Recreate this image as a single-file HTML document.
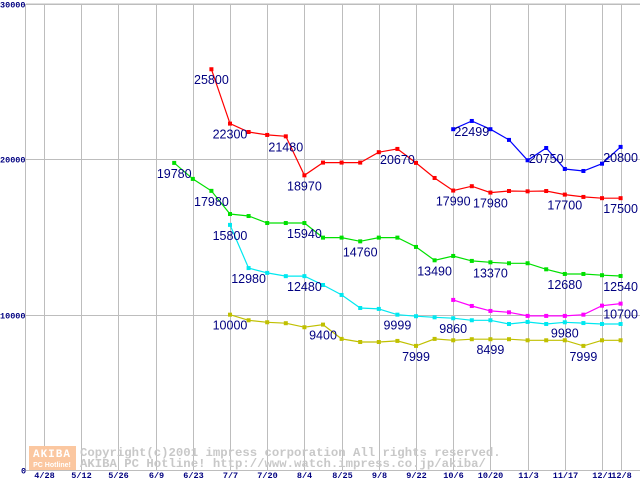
<!DOCTYPE html>
<html><head><meta charset="utf-8"><style>
html,body{margin:0;padding:0;background:#fff;}
svg{display:block;}
</style></head><body>
<svg id="chart" width="640" height="480" xmlns="http://www.w3.org/2000/svg">
<g id="grid"></g>
<g id="wm">
<rect x="29" y="446" width="47" height="24" fill="#fbc7a0"/>
<text x="52" y="457" text-anchor="middle" font-family="Liberation Mono, monospace" font-weight="bold" font-size="11" fill="#fff" letter-spacing="1">AKIBA</text>
<text x="52" y="467" text-anchor="middle" font-family="Liberation Sans, sans-serif" font-weight="bold" font-size="7" fill="#fff">PC Hotline!</text>
<text x="80" y="456" font-family="Liberation Mono, monospace" font-weight="bold" font-size="12.3" fill="#c8c8c8">Copyright(c)2001 impress corporation All rights reserved.</text>
<text x="80" y="467" font-family="Liberation Mono, monospace" font-weight="bold" font-size="12.3" fill="#c8c8c8">AKIBA PC Hotline!  http://www.watch.impress.co.jp/akiba/</text>
</g>
<g id="series"></g>
</svg>
<script>
const xLabels = ["4/28","5/12","5/26","6/9","6/23","7/7","7/20","8/4","8/25","9/8","9/22","10/6","10/20","11/3","11/17","12/1","12/8"];
const xLabelWeeks = [0,2,4,6,8,10,12,14,16,18,20,22,24,26,28,30,31];
const yTicks = [0,10000,20000,30000];
const redStart = 9;
const redValues = [25800,22300,21760,21570,21480,18970,19790,19790,19790,20460,20670,19770,18800,17990,18270,17860,17960,17940,17960,17730,17580,17500,17500];
const redLabels = [[0,"25800"],[1,"22300"],[4,"21480"],[5,"18970"],[10,"20670"],[13,"17990"],[15,"17980"],[19,"17700"],[22,"17500"]];
const blueStart = 22;
const blueValues = [21940,22470,21940,21250,19940,20730,19380,19250,19720,20800];
const blueLabels = [[1,"22499"],[5,"20750"],[9,"20800"]];
const greenStart = 7;
const greenValues = [19770,18740,17970,16480,16350,15900,15900,15900,14960,14960,14720,14960,14960,14360,13500,13780,13460,13370,13310,13310,12920,12620,12620,12540,12490];
const greenLabels = [[0,"19780"],[2,"17980"],[7,"15940"],[10,"14760"],[14,"13490"],[17,"13370"],[21,"12680"],[24,"12540"]];
const cyanStart = 10;
const cyanValues = [15780,13000,12690,12480,12480,11910,11270,10430,10370,10000,9900,9830,9770,9640,9640,9400,9530,9400,9510,9460,9400,9400];
const cyanLabels = [[0,"15800"],[1,"12980"],[4,"12480"],[9,"9999"],[12,"9860"],[18,"9980"]];
const magentaStart = 22;
const magentaValues = [10950,10560,10240,10150,9920,9920,9920,10000,10580,10710];
const magentaLabels = [[9,"10700"]];
const yellowStart = 10;
const yellowValues = [10000,9640,9510,9450,9190,9360,8440,8240,8240,8310,7990,8440,8350,8420,8420,8420,8350,8350,8350,7990,8350,8350];
const yellowLabels = [[0,"10000"],[5,"9400"],[10,"7999"],[14,"8499"],[19,"7999"]];

const NS="http://www.w3.org/2000/svg";
const X0=44, DX=18.6, Y0=470, Y1=4, YMAX=30000;
function xs(w){return X0+w*DX;}
function ys(v){return Y0-(v/YMAX)*(Y0-Y1);}
function mk(tag,attrs,parent){const e=document.createElementNS(NS,tag);for(const k in attrs)e.setAttribute(k,attrs[k]);parent.appendChild(e);return e;}
const grid=document.getElementById('grid');
// axes frame
let ln=mk('line',{x1:26,y1:4,x2:640,y2:4,stroke:"#bdbdbd"},grid);


ln=mk('line',{x1:25.5,y1:4,x2:25.5,y2:470,stroke:"#bdbdbd"},grid);


yTicks.forEach(v=>{
  const y=Math.round(ys(v))+0.5;
  const l=mk('line',{x1:26,y1:y,x2:640,y2:y,stroke:"#bdbdbd"},grid);
  
  
  const t=mk('text',{x:v===0?21:0,y:y+3,"font-family":"Liberation Mono, monospace","font-weight":"bold","font-size":"8.5",fill:"#000080"},grid);
  t.textContent=v;
  
  
});
xLabels.forEach((lab,i)=>{
  const x=Math.round(xs(xLabelWeeks[i]))+0.5;
  const l=mk('line',{x1:x,y1:4,x2:x,y2:470,stroke:"#bdbdbd"},grid);
  
  
  const t=mk('text',{x:x,y:478,"text-anchor":"middle","font-family":"Liberation Mono, monospace","font-weight":"bold","font-size":"8.5",fill:"#000080"},grid);
  t.textContent=lab;
  
  
});
const layer=document.getElementById('series');
function drawSeries(name,color,start,vals,labels){
  const g=mk('g',{},layer);
  
  
  const pts=vals.map((v,i)=>[xs(start+i),ys(v)]);
  const p=mk('polyline',{points:pts.map(q=>q[0].toFixed(1)+','+q[1].toFixed(1)).join(' '),fill:"none",stroke:color,"stroke-width":1.2},g);
  
  
  pts.forEach(q=>{
    const r=mk('rect',{x:q[0]-2,y:q[1]-2,width:4,height:4,fill:color},g);
    
    
  });
  labels.forEach(([i,txt])=>{
    const q=pts[i];
    const t=mk('text',{x:q[0],y:q[1]+15,"text-anchor":"middle","font-family":"Liberation Sans, sans-serif","font-size":"12.5",fill:"#000080"},g);
    t.textContent=txt;
    
    
  });
}
drawSeries('yellow','#c0c000',yellowStart,yellowValues,yellowLabels);
drawSeries('cyan','#00e8f0',cyanStart,cyanValues,cyanLabels);
drawSeries('magenta','#ff00ff',magentaStart,magentaValues,magentaLabels);
drawSeries('green','#00e000',greenStart,greenValues,greenLabels);
drawSeries('red','#ff0000',redStart,redValues,redLabels);
drawSeries('blue','#0000ff',blueStart,blueValues,blueLabels);
</script>
</body></html>
